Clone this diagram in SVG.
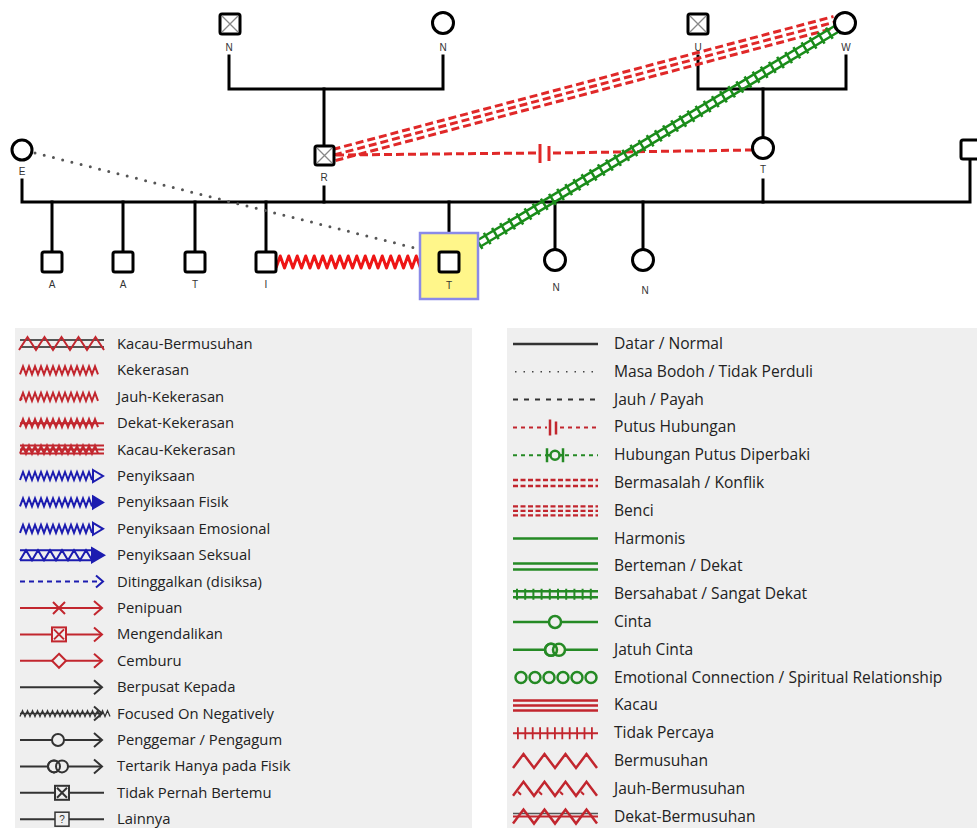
<svg xmlns="http://www.w3.org/2000/svg" xmlns:xlink="http://www.w3.org/1999/xlink" width="977" height="828" viewBox="0 0 977 828">
<style>
.fam{stroke:#000;stroke-width:3;fill:none;stroke-linecap:square}
.nd{fill:#fff;stroke:#000;stroke-width:3}
.xg{stroke:#888;stroke-width:1.3}
.lbl{font-family:"Liberation Sans",Arial,sans-serif;font-size:10px;fill:#333;text-anchor:middle}
.lt{font-family:"Open Sans","DejaVu Sans",sans-serif;font-size:14.8px;fill:#222}
.rt{font-family:"Open Sans","DejaVu Sans",sans-serif;font-size:15.6px;fill:#222}
.panel{fill:#efefef}
.r{stroke:#c2262e;stroke-width:2;fill:none}
.rf{fill:#c2262e}
.b{stroke:#1c1cb0;stroke-width:2;fill:none}
.bf{fill:#1c1cb0;stroke:#1c1cb0;stroke-width:2}
.k{stroke:#333;stroke-width:2;fill:none}
.gr{stroke:#258a25;stroke-width:2.5;fill:none}
</style>
<defs>
<path id="zz" d="M0,4l3,-8l3,8l3,-8l3,8l3,-8l3,8l3,-8l3,8l3,-8l3,8l3,-8l3,8l3,-8l3,8l3,-8l3,8l3,-8l3,8l3,-8l3,8l3,-8l3,8l3,-8l3,8l3,-8l3,8"/>
<path id="zzb" d="M0,4l3,-8l3,8l3,-8l3,8l3,-8l3,8l3,-8l3,8l3,-8l3,8l3,-8l3,8l3,-8l3,8l3,-8l3,8l3,-8l3,8l3,-8l3,8l3,-8l3,8l3,-8l3,8"/>
<path id="zzk" d="M0,3l2.5,-6l2.5,6l2.5,-6l2.5,6l2.5,-6l2.5,6l2.5,-6l2.5,6l2.5,-6l2.5,6l2.5,-6l2.5,6l2.5,-6l2.5,6l2.5,-6l2.5,6l2.5,-6l2.5,6l2.5,-6l2.5,6l2.5,-6l2.5,6l2.5,-6l2.5,6l2.5,-6l2.5,6l2.5,-6l2.5,6l2.5,-6l2.5,6l2.5,-6l2.5,6l2.5,-6l2.5,6l2.5,-6l2.5,6"/>
<path id="tw" d="M0,7l10.5,-14l10.5,14l10.5,-14l10.5,14l10.5,-14l10.5,14l10.5,-14l10.5,14"/>
<path id="tw17" d="M0,6l8.5,-13l8.5,13l8.5,-13l8.5,13l8.5,-13l8.5,13l8.5,-13l8.5,13l8.5,-13l8.5,13"/>
<path id="twb" d="M0,5l6,-10l6,10l6,-10l6,10l6,-10l6,10l6,-10l6,10l6,-10l6,10l6,-10l6,10"/>
<path id="chev" d="M94,-7L102,0L94,7"/>
</defs>

<!-- ===== connectors ===== -->
<g id="connectors">
  <g id="family-lines" class="fam">
    <path d="M229,56V89H443V56"/>
    <path d="M324,89V145"/>
    <path d="M698,56V89H846V56"/>
    <path d="M763,89V138"/>
    <path d="M22,180V202H970V159"/>
    <path d="M324,187V202"/>
    <path d="M763,180V202"/>
    <path d="M52,202V252M123,202V252M195,202V252M266,202V252"/>
    <path d="M449,202V233"/>
    <path d="M555,202V250M643,202V249"/>
  </g>
  <g id="relations">
    <line x1="35" y1="153" x2="419" y2="249" stroke="#555" stroke-width="3" stroke-dasharray="0 9.5" stroke-linecap="round"/>
    <path d="M276,268l4.25,-12l4.25,12l4.25,-12l4.25,12l4.25,-12l4.25,12l4.25,-12l4.25,12l4.25,-12l4.25,12l4.25,-12l4.25,12l4.25,-12l4.25,12l4.25,-12l4.25,12l4.25,-12l4.25,12l4.25,-12l4.25,12l4.25,-12l4.25,12l4.25,-12l4.25,12l4.25,-12l4.25,12l4.25,-12l4.25,12l4.25,-12l4.25,12l4.25,-12l4.25,12l4.25,-12l4.25,12" stroke="#ee1515" stroke-width="3" fill="none" stroke-linejoin="round"/>
    <g stroke="#e02828" stroke-width="3" stroke-dasharray="8 4" fill="none">
      <line x1="332.5" y1="149.5" x2="833.5" y2="16.5"/>
      <line x1="334" y1="155" x2="835" y2="22"/>
      <line x1="335.5" y1="160.5" x2="836.5" y2="27.5"/>
      <line x1="336" y1="155" x2="537" y2="153"/>
      <line x1="553" y1="153" x2="752" y2="150"/>
    </g>
    <g stroke="#e02828" stroke-width="3">
      <line x1="540" y1="144" x2="540" y2="163"/>
      <line x1="549" y1="146" x2="549" y2="161"/>
    </g>
    <g stroke="#1a8c1a" fill="none">
      <line x1="479.8" y1="247" x2="839.8" y2="31" stroke-width="2.5"/>
      <line x1="476.2" y1="241" x2="836.2" y2="25" stroke-width="2.5"/>
      <line x1="478" y1="244" x2="838" y2="28" stroke-width="13" stroke-dasharray="2.5 7"/>
    </g>
  </g>
</g>

<!-- ===== nodes ===== -->
<g id="n-top-N1"><rect class="nd" x="220" y="14" width="20" height="20" rx="2"/><path class="xg" d="M222,16L238,32M238,16L222,32"/><text class="lbl" x="229" y="51">N</text></g>
<g id="n-top-N2"><circle class="nd" cx="443" cy="23" r="10.5"/><text class="lbl" x="443" y="51">N</text></g>
<g id="n-U"><rect class="nd" x="688" y="14" width="20" height="20" rx="2"/><path class="xg" d="M690,16L706,32M706,16L690,32"/><text class="lbl" x="698" y="51">U</text></g>
<g id="n-W"><circle class="nd" cx="845" cy="23" r="10.5"/><text class="lbl" x="846" y="51">W</text></g>
<g id="n-E"><circle class="nd" cx="22" cy="150" r="10"/><text class="lbl" x="22" y="175">E</text></g>
<g id="n-R"><rect class="nd" x="315" y="146" width="19" height="19" rx="2"/><path class="xg" d="M317,148L332,163M332,148L317,163"/><text class="lbl" x="324" y="181">R</text></g>
<g id="n-T2"><circle class="nd" cx="763" cy="148" r="10.5"/><text class="lbl" x="763" y="173">T</text></g>
<g id="n-right"><rect class="nd" x="961" y="140" width="20" height="19" rx="2"/></g>
<g id="n-A1"><rect class="nd" x="42" y="252" width="20" height="20" rx="2"/><text class="lbl" x="52" y="288">A</text></g>
<g id="n-A2"><rect class="nd" x="113" y="252" width="20" height="20" rx="2"/><text class="lbl" x="123" y="288">A</text></g>
<g id="n-T1"><rect class="nd" x="185" y="252" width="20" height="20" rx="2"/><text class="lbl" x="195" y="288">T</text></g>
<g id="n-I"><rect class="nd" x="256" y="252" width="20" height="20" rx="2"/><text class="lbl" x="266" y="288">I</text></g>
<g id="n-T-focus"><rect x="420" y="233" width="58" height="66" fill="#fff68a" stroke="#8a8ae8" stroke-width="2.5"/><rect class="nd" x="439" y="252" width="20" height="20" rx="2"/><text class="lbl" x="449" y="289">T</text></g>
<g id="n-N3"><circle class="nd" cx="555" cy="260" r="10.5"/><text class="lbl" x="556" y="291">N</text></g>
<g id="n-N4"><circle class="nd" cx="643" cy="260" r="10.5"/><text class="lbl" x="645" y="294">N</text></g>

<!-- ===== legend left ===== -->
<g id="legend-left">
<rect class="panel" x="15" y="328" width="457" height="500"/>
<g transform="translate(0,344)"><line x1="20" x2="104" y1="-4" y2="-4" stroke="#555" stroke-width="2"/><line x1="20" x2="104" y1="3" y2="3" stroke="#555" stroke-width="2"/><use href="#tw17" x="19" class="r"/><text class="lt" x="117" y="5">Kacau-Bermusuhan</text></g>
<g transform="translate(0,370.4)"><use href="#zz" x="20" class="r"/><text class="lt" x="117" y="5">Kekerasan</text></g>
<g transform="translate(0,396.8)"><use href="#zz" x="20" class="r"/><circle cx="21" cy="2" r="1.5" class="rf"/><text class="lt" x="117" y="5">Jauh-Kekerasan</text></g>
<g transform="translate(0,423.2)"><use href="#zz" x="20" class="r"/><line x1="20" x2="104" y1="0" y2="0" class="r"/><text class="lt" x="117" y="5">Dekat-Kekerasan</text></g>
<g transform="translate(0,449.6)"><use href="#zz" x="20" class="r"/><path class="r" d="M20,-4H104M20,0H104M20,4H104"/><text class="lt" x="117" y="5">Kacau-Kekerasan</text></g>
<g transform="translate(0,476)"><use href="#zzb" x="20" class="b"/><path d="M93,-6L103,0L93,6Z" class="b"/><text class="lt" x="117" y="5">Penyiksaan</text></g>
<g transform="translate(0,502.4)"><use href="#zzb" x="20" class="b"/><path d="M93,-6L103,0L93,6Z" class="bf"/><text class="lt" x="117" y="5">Penyiksaan Fisik</text></g>
<g transform="translate(0,528.8)"><use href="#zzb" x="20" class="b"/><path d="M93,-6L103,0L93,6Z" class="b"/><text class="lt" x="117" y="5">Penyiksaan Emosional</text></g>
<g transform="translate(0,555.2)"><path class="b" d="M20,-5H92M20,5H92"/><use href="#twb" x="20" class="b"/><path d="M92,-7L104,0L92,7Z" class="bf"/><text class="lt" x="117" y="5">Penyiksaan Seksual</text></g>
<g transform="translate(0,581.6)"><line x1="20" x2="97" y1="0" y2="0" class="b" stroke-dasharray="5 4"/><path d="M96,-6L103,0L96,6" class="b"/><text class="lt" x="117" y="5">Ditinggalkan (disiksa)</text></g>
<g transform="translate(0,608)"><line x1="20" x2="101" class="r"/><path class="r" d="M53,-6L65,6M53,6L65,-6"/><use href="#chev" class="r"/><text class="lt" x="117" y="5">Penipuan</text></g>
<g transform="translate(0,634.4)"><line x1="20" x2="101" class="r"/><rect x="52" y="-7" width="14" height="14" class="r" style="fill:#efefef"/><path class="r" d="M54,-5L64,5M54,5L64,-5"/><use href="#chev" class="r"/><text class="lt" x="117" y="5">Mengendalikan</text></g>
<g transform="translate(0,660.8)"><line x1="20" x2="101" class="r"/><path d="M59,-7L66,0L59,7L52,0Z" class="r" style="fill:#efefef"/><use href="#chev" class="r"/><text class="lt" x="117" y="5">Cemburu</text></g>
<g transform="translate(0,687.2)"><line x1="20" x2="101" class="k"/><use href="#chev" class="k"/><text class="lt" x="117" y="5">Berpusat Kepada</text></g>
<g transform="translate(0,713.6)"><line x1="20" x2="101" class="k" style="stroke-width:1.5"/><use href="#zzk" x="20" class="k" style="stroke-width:1.3"/><use href="#chev" class="k"/><text class="lt" x="117" y="5">Focused On Negatively</text></g>
<g transform="translate(0,740)"><line x1="20" x2="101" class="k"/><circle cx="58" cy="0" r="6" class="k" style="fill:#efefef"/><use href="#chev" class="k"/><text class="lt" x="117" y="5">Penggemar / Pengagum</text></g>
<g transform="translate(0,766.4)"><line x1="20" x2="101" class="k"/><circle cx="54" cy="0" r="6" class="k" style="fill:#efefef"/><circle cx="62" cy="0" r="6" class="k" style="fill:#efefef"/><circle cx="54" cy="0" r="6" class="k"/><use href="#chev" class="k"/><text class="lt" x="117" y="5">Tertarik Hanya pada Fisik</text></g>
<g transform="translate(0,792.8)"><line x1="20" x2="104" class="k"/><rect x="55" y="-7" width="14" height="14" class="k" style="fill:#efefef"/><path class="k" d="M57,-5L67,5M57,5L67,-5"/><text class="lt" x="117" y="5">Tidak Pernah Bertemu</text></g>
<g transform="translate(0,819.2)"><line x1="20" x2="104" class="k"/><rect x="55" y="-7" width="14" height="14" class="k" style="fill:#efefef;stroke-width:1.5"/><text x="62" y="4" font-family="Liberation Sans,Arial,sans-serif" font-size="10" fill="#333" text-anchor="middle">?</text><text class="lt" x="117" y="5">Lainnya</text></g>
</g>

<!-- ===== legend right ===== -->
<g id="legend-right">
<rect class="panel" x="507" y="328" width="470" height="500"/>
<g transform="translate(0,344)"><line x1="513" x2="598" stroke="#333" stroke-width="2.5"/><text class="rt" x="614" y="5">Datar / Normal</text></g>
<g transform="translate(0,371.8)"><line x1="515" x2="598" stroke="#444" stroke-width="1.5" stroke-dasharray="1.5 7"/><text class="rt" x="614" y="5">Masa Bodoh / Tidak Perduli</text></g>
<g transform="translate(0,399.6)"><line x1="513" x2="598" stroke="#333" stroke-width="2" stroke-dasharray="5 6"/><text class="rt" x="614" y="5">Jauh / Payah</text></g>
<g transform="translate(0,427.4)"><path d="M513,0H547M560,0H598" class="r" stroke-dasharray="4 4"/><path class="r" style="stroke-width:2.5" d="M550,-8V8M556,-6V7"/><text class="rt" x="614" y="5">Putus Hubungan</text></g>
<g transform="translate(0,455.2)"><path d="M513,0H546M565,0H598" class="gr" style="stroke-width:2" stroke-dasharray="4 4"/><path class="gr" d="M547,-7V7M563,-7V7M547,0H550M560,0H563"/><circle cx="555" cy="0" r="4.5" class="gr"/><text class="rt" x="614" y="5">Hubungan Putus Diperbaki</text></g>
<g transform="translate(0,483)"><path d="M513,-3H598M513,3H598" class="r" style="stroke-width:2.5" stroke-dasharray="5 2.5"/><text class="rt" x="614" y="5">Bermasalah / Konflik</text></g>
<g transform="translate(0,510.8)"><path d="M513,-4.5H598M513,0H598M513,4.5H598" class="r" style="stroke-width:2.3" stroke-dasharray="5 2.5"/><text class="rt" x="614" y="5">Benci</text></g>
<g transform="translate(0,538.6)"><line x1="513" x2="598" class="gr"/><text class="rt" x="614" y="5">Harmonis</text></g>
<g transform="translate(0,566.4)"><path d="M513,-3H598M513,3H598" class="gr"/><text class="rt" x="614" y="5">Berteman / Dekat</text></g>
<g transform="translate(0,594.2)"><path d="M513,-3H598M513,3H598" class="gr"/><line x1="516" x2="598" class="gr" style="stroke-width:11" stroke-dasharray="2 6.2"/><text class="rt" x="614" y="5">Bersahabat / Sangat Dekat</text></g>
<g transform="translate(0,622)"><line x1="513" x2="598" class="gr"/><circle cx="555" cy="0" r="6" class="gr" style="fill:#efefef"/><text class="rt" x="614" y="5">Cinta</text></g>
<g transform="translate(0,649.8)"><line x1="513" x2="598" class="gr"/><circle cx="551" cy="0" r="6" class="gr" style="fill:#efefef"/><circle cx="559" cy="0" r="6" class="gr" style="fill:#f3f3e0"/><circle cx="551" cy="0" r="6" class="gr"/><text class="rt" x="614" y="5">Jatuh Cinta</text></g>
<g transform="translate(0,677.6)" class="gr"><circle cx="521" cy="0" r="5.5"/><circle cx="535" cy="0" r="5.5"/><circle cx="549" cy="0" r="5.5"/><circle cx="563" cy="0" r="5.5"/><circle cx="577" cy="0" r="5.5"/><circle cx="591" cy="0" r="5.5"/></g>
<text class="rt" x="614" y="682.6">Emotional Connection / Spiritual Relationship</text>
<g transform="translate(0,705.4)"><path d="M513,-5H598M513,0H598M513,5H598" class="r" style="stroke-width:2.5"/><text class="rt" x="614" y="5">Kacau</text></g>
<g transform="translate(0,733.2)"><line x1="513" x2="598" class="r"/><line x1="517" x2="598" class="r" style="stroke-width:12" stroke-dasharray="1.8 5.6"/><text class="rt" x="614" y="5">Tidak Percaya</text></g>
<g transform="translate(0,761)"><use href="#tw" x="513" class="r" style="stroke-width:2.5"/><text class="rt" x="614" y="5">Bermusuhan</text></g>
<g transform="translate(0,788.8)"><use href="#tw" x="513" class="r" style="stroke-width:2.5"/><path class="r" d="M518,3l3,3M539,3l3,3M560,3l3,3M581,3l3,3"/><text class="rt" x="614" y="5">Jauh-Bermusuhan</text></g>
<g transform="translate(0,816.6)"><line x1="513" x2="598" class="r"/><line x1="513" x2="598" y1="-3" y2="-3" stroke="#555" stroke-width="1.5"/><use href="#tw" x="513" class="r" style="stroke-width:2.5"/><text class="rt" x="614" y="5">Dekat-Bermusuhan</text></g>
</g>
</svg>
